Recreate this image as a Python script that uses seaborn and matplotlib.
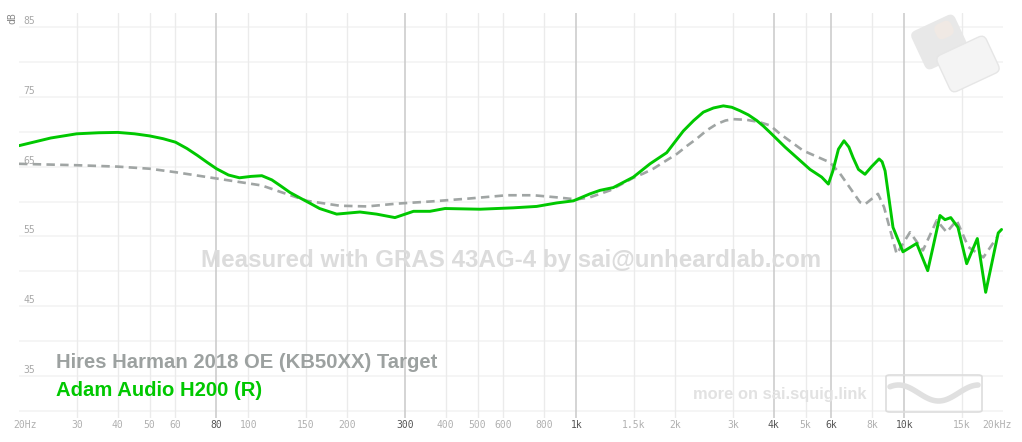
import numpy as np
import pandas as pd
import matplotlib
matplotlib.use('Agg')
import matplotlib.pyplot as plt
import matplotlib.transforms as mtransforms
from matplotlib.patches import FancyBboxPatch
import seaborn as sns

meas_freq = [20, 25, 30, 35, 40, 45, 50, 55, 60, 65, 70, 75, 80, 87, 94, 102, 110, 118, 125,
             134, 144, 155, 165, 186, 219, 246, 280, 319, 358, 398, 509, 643, 757, 872, 980,
             1101, 1181, 1297, 1493, 1678, 1887, 2120, 2280, 2440, 2620, 2808, 2980, 3157,
             3350, 3550, 3720, 3897, 4330, 5160, 5600, 5870, 6060, 6300, 6550, 6780, 6980,
             7250, 7590, 7950, 8380, 8560, 8740, 9240, 9910, 10910, 11790, 12240, 12850,
             13310, 13860, 14580, 15500, 16700, 17710, 19340, 19800]
meas_db = [68.0, 69.1, 69.7, 69.85, 69.9, 69.7, 69.4, 69.0, 68.5, 67.6, 66.6, 65.6, 64.7, 63.8,
           63.4, 63.6, 63.7, 63.1, 62.3, 61.3, 60.5, 59.7, 59.0, 58.2, 58.5, 58.2, 57.7, 58.6,
           58.6, 59.0, 58.9, 59.1, 59.3, 59.8, 60.1, 61.1, 61.6, 62.0, 63.5, 65.4, 67.0, 70.1,
           71.6, 72.8, 73.4, 73.7, 73.5, 73.0, 72.4, 71.6, 70.8, 69.9, 67.8, 64.6, 63.5, 62.5,
           64.4, 67.5, 68.7, 67.8, 66.3, 64.6, 63.9, 65.0, 66.1, 65.7, 64.4, 56.3, 52.8, 54.0,
           50.1, 53.5, 58.0, 57.4, 57.7, 56.3, 51.1, 54.7, 47.0, 55.5, 56.0]

# Target curve
target_freq = [20, 30, 40, 50, 60, 80, 110, 125, 151, 190, 230, 284, 358, 463, 614, 740, 872,
               1003, 1101, 1268, 1493, 1600, 1718, 1870, 2024, 2180, 2330, 2500, 2681, 2850,
               3012, 3309, 3600, 3897, 4180, 4914, 5938, 6370, 7330, 7590, 8316, 8676, 9480,
               10410, 11400, 12560, 13470, 14450, 15680, 17420, 19200]
target_db = [65.4, 65.2, 65.0, 64.7, 64.2, 63.3, 62.3, 61.4, 60.1, 59.4, 59.3, 59.7, 60.0, 60.4,
             60.9, 60.9, 60.6, 60.3, 60.6, 61.6, 63.4, 64.0, 64.7, 65.8, 66.8, 68.0, 69.0, 70.2,
             71.1, 71.6, 71.8, 71.7, 71.4, 70.9, 69.7, 67.3, 65.6, 64.0, 59.9, 59.6, 61.1, 59.2,
             52.5, 55.6, 53.0, 57.3, 55.6, 57.3, 53.5, 52.0, 54.9]

tick_freq = [20, 30, 40, 50, 60, 80, 100, 150, 200, 300, 400, 500, 600, 800, 1000, 1500,
             2000, 3000, 4000, 5000, 6000, 8000, 10000, 15000, 20000]
tick_labels = ['20Hz', '30', '40', '50', '60', '80', '100', '150', '200', '300', '400', '500',
               '600', '800', '1k', '1.5k', '2k', '3k', '4k', '5k', '6k', '8k', '10k', '15k',
               '20kHz']
strong_ticks = [80, 300, 1000, 4000, 6000, 10000]
db_labels = [85, 75, 65, 55, 45, 35]

meas = pd.DataFrame({'freq': meas_freq, 'db': meas_db})
target = pd.DataFrame({'freq': target_freq, 'db': target_db})

sns.set_style('white')
plt.rcParams['font.family'] = ['Liberation Sans', 'DejaVu Sans']

fig = plt.figure(figsize=(10.22, 4.42), dpi=100)
ax = fig.add_axes([19 / 1022, 24 / 442, 984 / 1022, 405 / 442])
ax.set_xscale('log')
ax.set_xlim(20, 20000)
ax.set_ylim(29, 87)
for s in ax.spines.values():
    s.set_visible(False)
ax.set_xticks([])
ax.set_yticks([])
ax.minorticks_off()

# grid
for v in range(30, 90, 5):
    ax.axhline(v, color='#f4f4f4', lw=1.3, zorder=0)
for f in tick_freq[1:-1]:
    if f in strong_ticks:
        ax.axvline(f, color='#cdcdcd', lw=1.2, zorder=0)
    else:
        ax.axvline(f, color='#ebebeb', lw=1.0, zorder=0)

# faint rig photo in the top right corner (pixel coords, rotated)
pix = mtransforms.Affine2D().scale(1, -1).translate(0, 442)
for (cx, cy, w, h, fc, ec) in [(940, 42, 48, 42, '#e8e8e8', 'none'),
                               (968, 64, 54, 40, '#f4f4f4', '#e6e6e6'),
                               (944, 30, 18, 16, '#f0e9e4', 'none')]:
    p = FancyBboxPatch((-w / 2, -h / 2), w, h, boxstyle='round,pad=0,rounding_size=6',
                       facecolor=fc, edgecolor=ec, lw=1,
                       transform=mtransforms.Affine2D().rotate_deg(-25).translate(cx, cy)
                       + pix)
    fig.patches.append(p)

# watermark
ax.text(0.5, 0.39, 'Measured with GRAS 43AG-4 by sai@unheardlab.com', transform=ax.transAxes,
        ha='center', va='center', fontsize=17.4, fontweight='bold', color='#dcdcdc', zorder=1)
fig.text(693 / 1022, 1 - 395 / 442, 'more on sai.squig.link', ha='left', va='center',
         fontsize=11.9, fontweight='bold', color='#e2e2e2')
box = FancyBboxPatch((886 / 1022, 1 - 412 / 442), 96 / 1022, 37 / 442,
                     boxstyle='round,pad=0,rounding_size=0.004', transform=fig.transFigure,
                     fill=False, edgecolor='#dddddd', lw=1.2)
fig.patches.append(box)
sq = np.linspace(0, 1, 60)
fig.add_artist(plt.Line2D(890 / 1022 + sq * 88 / 1022,
                          1 - (393 - 8 * np.sin(sq * 2.2 * np.pi + 0.9)) / 442,
                          color='#e0e0e0', lw=4, solid_capstyle='round',
                          transform=fig.transFigure))

# curves
sns.lineplot(data=target, x='freq', y='db', ax=ax, color='#a0a5a4', lw=1.9, sort=False,
             zorder=3)
ax.lines[-1].set_dashes([3.2, 2.0])
sns.lineplot(data=meas, x='freq', y='db', ax=ax, color='#00c800', lw=2.1, sort=False,
             zorder=4)
ax.set_xlabel('')
ax.set_ylabel('')

# axis labels
mono = 'DejaVu Sans Mono'
ytr = mtransforms.blended_transform_factory(ax.transAxes, ax.transData)
for v in db_labels:
    ax.text(4 / 984, v + 0.15, str(v), transform=ytr, ha='left', va='bottom', fontsize=7,
            family=mono, color='#a8a8a8')
fig.text(12 / 1022, 1 - 18 / 442, 'dB', rotation=90, ha='center', va='center', fontsize=7,
         family=mono, color='#888888')
for f, lab in zip(tick_freq, tick_labels):
    dx = 0
    if lab == '20Hz':
        dx = 6
    elif lab == '20kHz':
        dx = -6
    tr = mtransforms.offset_copy(mtransforms.blended_transform_factory(ax.transData, fig.transFigure),
                                 fig=fig, x=dx * 0.72, y=0, units='points')
    ax.text(f, 1 - 425 / 442, lab, transform=tr, ha='center', va='center', fontsize=7,
            family=mono, color='#555555' if f in strong_ticks else '#b0b0b0', clip_on=False)

# legend
fig.text(56 / 1022, 1 - 363 / 442, 'Hires Harman 2018 OE (KB50XX) Target', ha='left',
         va='center', fontsize=14.6, fontweight='bold', color='#9ca1a0')
fig.text(56 / 1022, 1 - 391 / 442, 'Adam Audio H200 (R)', ha='left', va='center',
         fontsize=14.6, fontweight='bold', color='#00c800')

plt.savefig('out.png', dpi=100)
